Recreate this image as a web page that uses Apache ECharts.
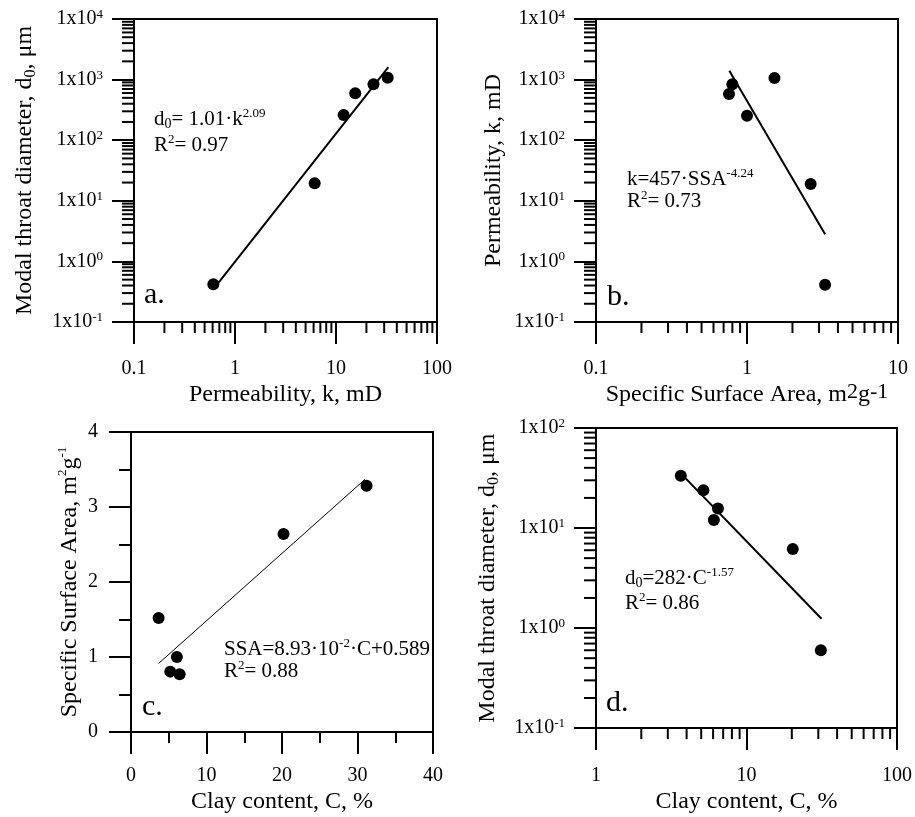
<!DOCTYPE html>
<html><head><meta charset="utf-8">
<script src="https://cdn.jsdelivr.net/npm/echarts@6/dist/echarts.min.js"></script>
<style>html,body{margin:0;padding:0;background:#fff}#chart{width:915px;height:817px}</style>
</head><body><div id="chart"></div>
<script>
// ---- Panel a ----
const aX = [0.61, 6.15, 11.9, 15.5, 23.5, 32.5];
const aY = [0.42, 19.5, 261, 594, 836, 1076];
const aFitX = [0.66, 33];
const aFitY = [0.41, 1600];
// ---- Panel b ----
const bX = [0.76, 0.80, 1.0, 1.52, 2.64, 3.29];
const bY = [578, 836, 254, 1062, 18.9, 0.41];
const bFitX = [0.764, 3.29];
const bFitY = [1400, 2.8];
// ---- Panel c ----
const cX = [3.66, 5.2, 6.08, 6.44, 20.2, 31.2];
const cY = [1.52, 0.806, 1.0, 0.77, 2.64, 3.285];
const cFitX = [3.66, 31.0];
const cFitY = [0.915, 3.37];
// ---- Panel d ----
const dX = [3.66, 5.17, 6.07, 6.46, 20.3, 31.2];
const dY = [33.3, 23.8, 12.0, 15.7, 6.18, 0.60];
const dFitX = [3.69, 31.5];
const dFitY = [34.8, 1.24];

// ---- tick labels ----
const aXTicks = ['0.1', '1', '10', '100'];
const abYTicks = ['1x10{s|-1}', '1x10{s|0}', '1x10{s|1}', '1x10{s|2}', '1x10{s|3}', '1x10{s|4}'];
const bXTicks = ['0.1', '1', '10'];
const cXTicks = ['0', '10', '20', '30', '40'];
const cYTicks = ['0', '1', '2', '3', '4'];
const dXTicks = ['1', '10', '100'];
const dYTicks = ['1x10{s|-1}', '1x10{s|0}', '1x10{s|1}', '1x10{s|2}'];

const FONT = '"Liberation Serif", "Times New Roman", serif';

function minorLogTicks(loExp, hiExp) {
  const out = [];
  for (let e = loExp; e < hiExp; e++)
    for (let m = 2; m <= 9; m++) out.push(+(m * Math.pow(10, e)).toPrecision(3));
  return out;
}

const SUP = { fontSize: 13, lineHeight: 12, verticalAlign: 'top', fontFamily: FONT, color: '#000' };
const SUB = { fontSize: 14, lineHeight: 12, verticalAlign: 'bottom', fontFamily: FONT, color: '#000' };
const RAISE = { fontSize: 22, lineHeight: 18, verticalAlign: 'top', fontFamily: FONT, color: '#000' };

function axis(type, min, max, labels, name, nameGap, margin, extra) {
  const o = {
    type: type, min: min, max: max,
    name: name, nameLocation: 'middle', nameGap: nameGap,
    nameTextStyle: { color: '#000', fontFamily: FONT, fontSize: 24, lineHeight: 28,
      rich: { s: SUP, b: { fontSize: 16, lineHeight: 16, verticalAlign: 'bottom', fontFamily: FONT, color: '#000' }, r: RAISE } },
    axisLine: { show: true, onZero: false, lineStyle: { color: '#000', width: 2 } },
    axisTick: { show: true, inside: false, length: 22, lineStyle: { color: '#000', width: 2 } },
    splitLine: { show: false },
    axisLabel: { color: '#000', fontFamily: FONT, fontSize: 20, lineHeight: 22, margin: margin,
      formatter: function (v, i) { return labels[i]; }, rich: { s: SUP } }
  };
  if (type === 'log') o.logBase = 10;
  return Object.assign(o, extra || {});
}

function pts(xs, ys) { return xs.map(function (x, i) { return [x, ys[i]]; }); }

function minorSeries(idx, vals, dir, fixed, len) {
  return {
    type: 'custom', xAxisIndex: idx, yAxisIndex: idx, silent: true, clip: false, z: 5,
    animation: false,
    data: vals.map(function (v) { return dir === 'x' ? [v, fixed] : [fixed, v]; }),
    renderItem: function (params, api) {
      const p = api.coord([api.value(0), api.value(1)]);
      const shape = dir === 'x'
        ? { x1: p[0], y1: p[1], x2: p[0], y2: p[1] + len }
        : { x1: p[0], y1: p[1], x2: p[0] - len, y2: p[1] };
      return { type: 'line', shape: shape, style: { stroke: '#000', lineWidth: 2 } };
    }
  };
}

function scatter(idx, data) {
  return { type: 'scatter', xAxisIndex: idx, yAxisIndex: idx, data: data, symbol: 'circle',
    symbolSize: 12, itemStyle: { color: '#000', opacity: 1, borderWidth: 0 }, z: 4 };
}
function fit(idx, data, w) {
  return { type: 'line', xAxisIndex: idx, yAxisIndex: idx, data: data, showSymbol: false,
    lineStyle: { color: '#000', width: w, opacity: 1 }, z: 3 };
}

const gridStyle = { show: true, borderColor: '#000', borderWidth: 2, backgroundColor: 'transparent' };

function txt(x, y, text, size) {
  return { type: 'text', x: x, y: y, silent: true, z: 10,
    style: { text: text, fill: '#000', fontFamily: FONT, fontSize: size, lineHeight: 24,
      verticalAlign: 'middle', align: 'left', rich: { s: SUP, b: SUB } } };
}

const option = {
  animation: false,
  backgroundColor: '#fff',
  grid: [
    Object.assign({ left: 134, top: 19, width: 303, height: 303 }, gridStyle),
    Object.assign({ left: 596, top: 19, width: 302, height: 303 }, gridStyle),
    Object.assign({ left: 131, top: 432, width: 302, height: 303 }, gridStyle),
    Object.assign({ left: 596, top: 428, width: 302, height: 302 }, gridStyle)
  ],
  xAxis: [
    axis('log', 0.1, 100, aXTicks, 'Permeability, k, mD', 48, 36, { gridIndex: 0 }),
    axis('log', 0.1, 10, bXTicks, 'Specific Surface Area, m{r|2}g{r|-1}', 53, 36, { gridIndex: 1 }),
    axis('value', 0, 40, cXTicks, 'Clay content, C, %', 50, 33, { gridIndex: 2, interval: 10,
      minorTick: { show: true, splitNumber: 2, length: 11, lineStyle: { color: '#000', width: 2 } } }),
    axis('log', 1, 100, dXTicks, 'Clay content, C, %', 52, 37, { gridIndex: 3 })
  ],
  yAxis: [
    axis('log', 0.1, 10000, abYTicks, 'Modal throat diameter, d{b|0}, μm', 95, 31, { gridIndex: 0 }),
    axis('log', 0.1, 10000, abYTicks, 'Permeability, k, mD', 88, 31, { gridIndex: 1 }),
    axis('value', 0, 4, cYTicks, 'Specific Surface Area, m{s|2}g{s|-1}', 47, 33, { gridIndex: 2, interval: 1,
      minorTick: { show: true, splitNumber: 2, length: 12, lineStyle: { color: '#000', width: 2 } } }),
    axis('log', 0.1, 100, dYTicks, 'Modal throat diameter, d{b|0}, μm', 94, 31, { gridIndex: 3 })
  ],
  series: [
    minorSeries(0, minorLogTicks(-1, 2), 'x', 0.1, 11),
    minorSeries(0, minorLogTicks(-1, 4), 'y', 0.1, 12),
    minorSeries(1, minorLogTicks(-1, 1), 'x', 0.1, 11),
    minorSeries(1, minorLogTicks(-1, 4), 'y', 0.1, 12),
    minorSeries(3, minorLogTicks(0, 2), 'x', 0.1, 11),
    minorSeries(3, minorLogTicks(-1, 2), 'y', 1, 12),
    fit(0, pts(aFitX, aFitY), 2), scatter(0, pts(aX, aY)),
    fit(1, pts(bFitX, bFitY), 2), scatter(1, pts(bX, bY)),
    fit(2, pts(cFitX, cFitY), 1), scatter(2, pts(cX, cY)),
    fit(3, pts(dFitX, dFitY), 2), scatter(3, pts(dX, dY))
  ],
  graphic: [
    txt(154, 119, 'd{b|0}= 1.01·k{s|2.09}', 21),
    txt(154, 145, 'R{s|2}= 0.97', 21),
    txt(627, 179, 'k=457·SSA{s|-4.24}', 21),
    txt(627, 201, 'R{s|2}= 0.73', 21),
    txt(224, 649, 'SSA=8.93·10{s|-2}·C+0.589', 21),
    txt(224, 671, 'R{s|2}= 0.88', 21),
    txt(625, 578, 'd{b|0}=282·C{s|-1.57}', 21),
    txt(625, 603, 'R{s|2}= 0.86', 21),
    txt(144, 295, 'a.', 30),
    txt(607, 297, 'b.', 30),
    txt(142, 707, 'c.', 30),
    txt(606, 703, 'd.', 30)
  ]
};

const chart = echarts.init(document.getElementById('chart'), null, { renderer: 'canvas' });
chart.setOption(option);
</script>
</body></html>
